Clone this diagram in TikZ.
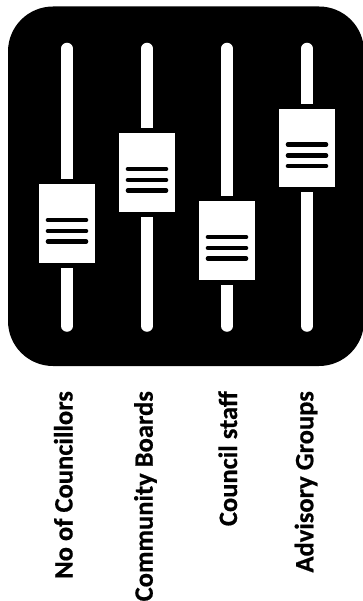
\documentclass[tikz,border=0pt]{standalone}
\usepackage{fontspec}
\setmainfont[BoldFeatures={FakeBold=0.6}]{Carlito}
\tikzset{
  panel/.style={fill=black,draw=none},
  track/.style={line width=11.5pt,white,line cap=round},
  knob/.style={fill=white,draw=none},
  grip/.style={line width=4.6pt,black,line cap=round},
  lab/.style={rotate=90,anchor=base east,inner sep=0pt,font=\fontsize{26.5}{28}\selectfont\bfseries,text=black}
}
\newcommand{\slider}[2]{% x, knob top
  \draw[track] (#1,48.5) -- (#1,#2-20);
  \draw[track] (#1,#2+100) -- (#1,326);
  \fill[white] (#1-5.75,#2-25) rectangle (#1+5.75,#2-5);
  \fill[white] (#1-5.75,#2+83.5) rectangle (#1+5.75,#2+105);
  \fill[knob] (#1-28,#2) rectangle (#1+28,#2+78.5);
  \draw[grip] (#1-19,#2+35.5) -- (#1+19,#2+35.5);
  \draw[grip] (#1-19,#2+46.5) -- (#1+19,#2+46.5);
  \draw[grip] (#1-19,#2+57) -- (#1+19,#2+57);
}
\begin{document}
\begin{tikzpicture}[x=1pt,y=-1pt]
\useasboundingbox (0,0) rectangle (363,601);
\fill[panel,rounded corners=45pt] (8,6.5) rectangle (364,366);
\slider{67}{184.5}
\slider{147}{133.5}
\slider{227}{201.5}
\slider{307}{109}
\node[lab] (a) at (72.5,391) {No of Councillors};
\node[lab] (b) at (152.7,391) {Community Boards};
\node[lab] (c) at (237,391) {Council staff};
\node[lab] (d) at (313.3,391) {Advisory Groups};
\end{tikzpicture}
\end{document}
